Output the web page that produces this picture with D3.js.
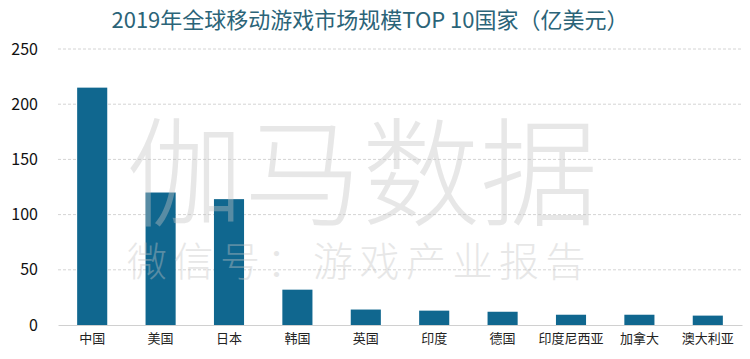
<!DOCTYPE html>
<html>
<head>
<meta charset="utf-8">
<script src="https://cdn.jsdelivr.net/npm/d3@7"></script>
<style>
  body { margin: 0; background: #fff; }
  .chart text { font-family: "Noto Sans CJK SC", "Noto Sans", sans-serif; }
</style>
</head>
<body>
<div class="chart"></div>
<script>
const countries = ['中国', '美国', '日本', '韩国', '英国', '印度', '德国', '印度尼西亚', '加拿大', '澳大利亚'];
const revenue = [215, 120, 114, 32, 14, 13, 12, 9.3, 9.3, 8.5];
const yTicks = [0, 50, 100, 150, 200, 250];
const title = '2019年全球移动游戏市场规模TOP 10国家（亿美元）';

const W = 750, H = 359;
const margin = {top: 49, left: 58, bottom: 34, right: 8};
const width = W - margin.left - margin.right;
const height = H - margin.top - margin.bottom;

const svg = d3.select('.chart')
    .append('svg')
    .attr('width', W)
    .attr('height', H);

const g = svg.append('g')
    .attr('transform', 'translate(' + margin.left + ',' + margin.top + ')');

const xScale = d3.scaleBand()
    .domain(countries)
    .range([0, width])
    .paddingInner(0.56)
    .paddingOuter(0.28);

const yScale = d3.scaleLinear()
    .domain([0, 250])
    .range([height, 0]);

// gridlines
g.selectAll('.grid')
    .data(yTicks.filter(d => d > 0))
    .enter()
    .append('line')
    .attr('class', 'grid')
    .attr('x1', 0)
    .attr('x2', width)
    .attr('y1', d => yScale(d))
    .attr('y2', d => yScale(d))
    .attr('stroke', '#d4d4d4')
    .attr('stroke-dasharray', '3,2');

// y axis labels
const yAxis = d3.axisLeft(yScale).tickValues(yTicks).tickSize(0).tickPadding(20);
g.append('g')
    .attr('class', 'y-axis')
    .call(yAxis)
    .call(a => a.select('.domain').remove())
    .selectAll('text')
    .attr('font-size', 16)
    .attr('fill', '#111');

// bars
g.selectAll('rect')
    .data(countries)
    .enter()
    .append('rect')
    .attr('x', d => xScale(d))
    .attr('y', (d, i) => yScale(revenue[i]))
    .attr('width', xScale.bandwidth())
    .attr('height', (d, i) => height - yScale(revenue[i]))
    .attr('fill', '#10678f');

// x axis
const xAxis = d3.axisBottom(xScale).tickSize(0).tickPadding(9);
g.append('g')
    .attr('class', 'x-axis')
    .attr('transform', 'translate(0,' + height + ')')
    .call(xAxis)
    .call(a => a.select('.domain').attr('stroke', '#d0d0d0'))
    .selectAll('text')
    .attr('font-size', 13)
    .attr('fill', '#222');

// watermark (sits on top of the bars, very faint)
svg.append('text')
    .attr('x', 126)
    .attr('y', 217)
    .attr('font-size', 118)
    .attr('font-weight', 300)
    .attr('letter-spacing', 0)
    .attr('fill', '#c4c4c4')
    .attr('opacity', 0.4)
    .text('伽马数据');

svg.append('text')
    .attr('x', 127)
    .attr('y', 276)
    .attr('font-size', 40)
    .attr('font-weight', 300)
    .attr('letter-spacing', 6.5)
    .attr('fill', '#c4c4c4')
    .attr('opacity', 0.4)
    .text('微信号：游戏产业报告');

// title
svg.append('text')
    .attr('x', 370)
    .attr('y', 28)
    .attr('text-anchor', 'middle')
    .attr('font-size', 22)
    .attr('fill', '#2b6478')
    .text(title);
</script>
</body>
</html>
